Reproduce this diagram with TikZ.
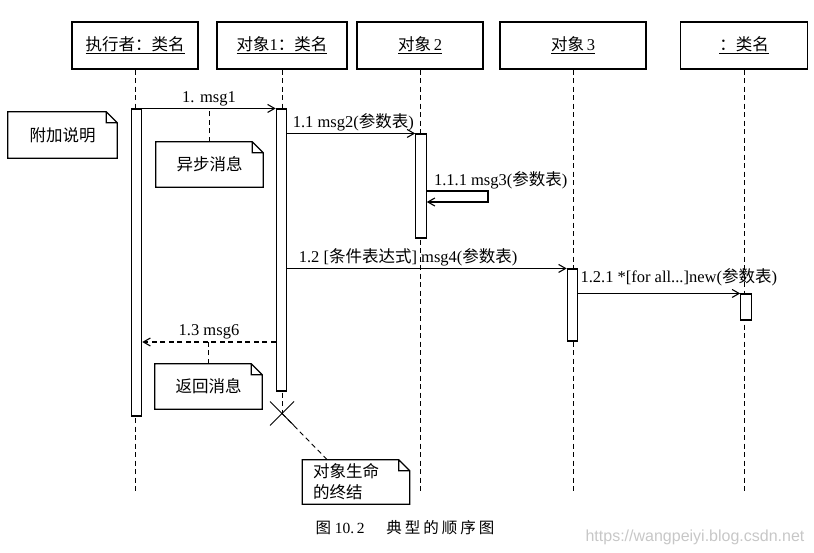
\documentclass[tikz,border=0pt]{standalone}
\usepackage{fontspec}
\setmainfont{Liberation Serif}
\newfontfamily\cjk{Noto Sans CJK SC}
\newfontfamily\wmfont{Liberation Sans}
\usetikzlibrary{positioning,arrows.meta,calc}

\begin{document}
\begin{tikzpicture}[x=1pt, y=-1pt, font=\fontsize{16.5}{19}\selectfont,
  objbox/.style={draw, line width=1.3pt, minimum height=47pt, inner sep=0pt},
  bar/.style={draw, line width=1.1pt, fill=white, minimum width=10.5pt, inner sep=0pt},
  life/.style={line width=0.9pt, dash pattern=on 5pt off 3.5pt},
  msg/.style={line width=1.1pt, -{Straight Barb[length=7pt,width=8pt]}},
  ret/.style={msg, dash pattern=on 5pt off 3.5pt},
  notebox/.style={minimum width=107pt, minimum height=45pt, inner sep=0pt},
  lbl/.style={inner sep=2pt}]
\useasboundingbox (0,0) rectangle (814,553);
% objects
\foreach \n/\x/\w/\t in {o0/135/126/{{\cjk 执行者：类名}},
    o1/282/130/{{\cjk 对象}1{\cjk ：类名}},
    o2/420/126/{{\cjk 对象}\,2},
    o3/573/146/{{\cjk 对象}\,3},
    o4/744/127/{{\cjk ：类名}}}
  \node[objbox, minimum width=\w] (\n) at (\x,45.5) {\underline{\t}};
% lifelines
\coordinate (x1) at (282,413.5);
\foreach \n in {o0,o2,o3,o4}
  \draw[life] (\n.south) -- ++(0,424);
\draw[life] (o1.south) -- (x1);
% activations
\node[bar, minimum height=307pt] (ba) at (136.5,262.5) {};
\node[bar, minimum height=282pt] (b1) at (281.5,250) {};
\node[bar, minimum height=104pt] (b2) at (421,186) {};
\node[bar, minimum height=72pt] (b3) at (572.5,305) {};
\node[bar, minimum height=26pt] (b4) at (746,307) {};
\draw[line width=1pt] ($(x1)+(-12,-12)$) -- ($(x1)+(12,12)$)
  ($(x1)+(12,-12)$) -- ($(x1)+(-12,12)$);
% messages
\draw[msg] (ba.east |- b1.north) -- (b1.north west)
  node[midway, above, lbl] (l1) {1. msg1};
\draw[msg] (b1.east |- b2.north) -- (b2.north west)
  node[pos=0, above right, lbl, xshift=3pt] (l2) {1.1 msg2({\cjk 参数表})};
\coordinate (s1) at (488,191);
\draw[msg] (b2.east |- s1) -- (s1) -- ++(0,11) -- ($(b2.east |- s1)+(0,11)$);
\node[anchor=south west, lbl] (l3) at ([xshift=5pt]b2.east |- s1) {1.1.1 msg3({\cjk 参数表})};
\draw[msg] (b1.east |- b3.north) -- (b3.north west)
  node[pos=0, above right, lbl, xshift=9pt] (l4) {1.2 [{\cjk 条件表达式}] msg4({\cjk 参数表})};
\draw[msg] (b3.east |- b4.north) -- (b4.north west);
\node[anchor=north west, lbl, yshift=2pt] (l5) at (b3.north east) {1.2.1 *[for all...]new({\cjk 参数表})};
\coordinate (r) at (207,342);
\draw[ret] (b1.west |- r) -- (ba.east |- r)
  node[midway, above, lbl] (l6) {1.3 msg6};
% notes
\node[notebox, minimum width=109pt, minimum height=46pt] (n1) at (62.5,135) {\cjk 附加说明};
\node[notebox] (n2) at (209.5,164.5) {\cjk 异步消息};
\node[notebox] (n3) at (208.5,386.5) {\cjk 返回消息};
\node[notebox, minimum height=44pt, text width=86pt, inner xsep=10pt, align=left,
  font=\fontsize{16.5}{21}\selectfont] (n4) at (356,482) {\cjk 对象生命\\的终结};
\foreach \n in {n1,n2,n3,n4}
  \draw[line width=1.2pt] (\n.north west) -- ([xshift=-11pt]\n.north east)
    -- ([yshift=-11pt]\n.north east) -- (\n.south east) -- (\n.south west) -- cycle
    ([xshift=-11pt]\n.north east) -- ([xshift=-11pt, yshift=-11pt]\n.north east)
    -- ([yshift=-11pt]\n.north east);
\draw[life] (n2.north) -- (n2.north |- ba.north);
\draw[life] (n3.north) -- (n3.north |- r);
\draw[life] (x1) -- ([xshift=25pt]n4.north west);
% caption
\node[font=\fontsize{15.5}{18}\selectfont] (cap) at (405,528)
  {{\cjk 图} 10.\,2\hspace{1.4em}{\cjk 典\hspace{3pt}型\hspace{3pt}的\hspace{3pt}顺\hspace{3pt}序\hspace{3pt}图}};
\node[text=black!22, font=\wmfont\fontsize{16}{18}\selectfont] (wm) at (695,537)
  {https://wangpeiyi.blog.csdn.net};
\end{tikzpicture}
\end{document}
